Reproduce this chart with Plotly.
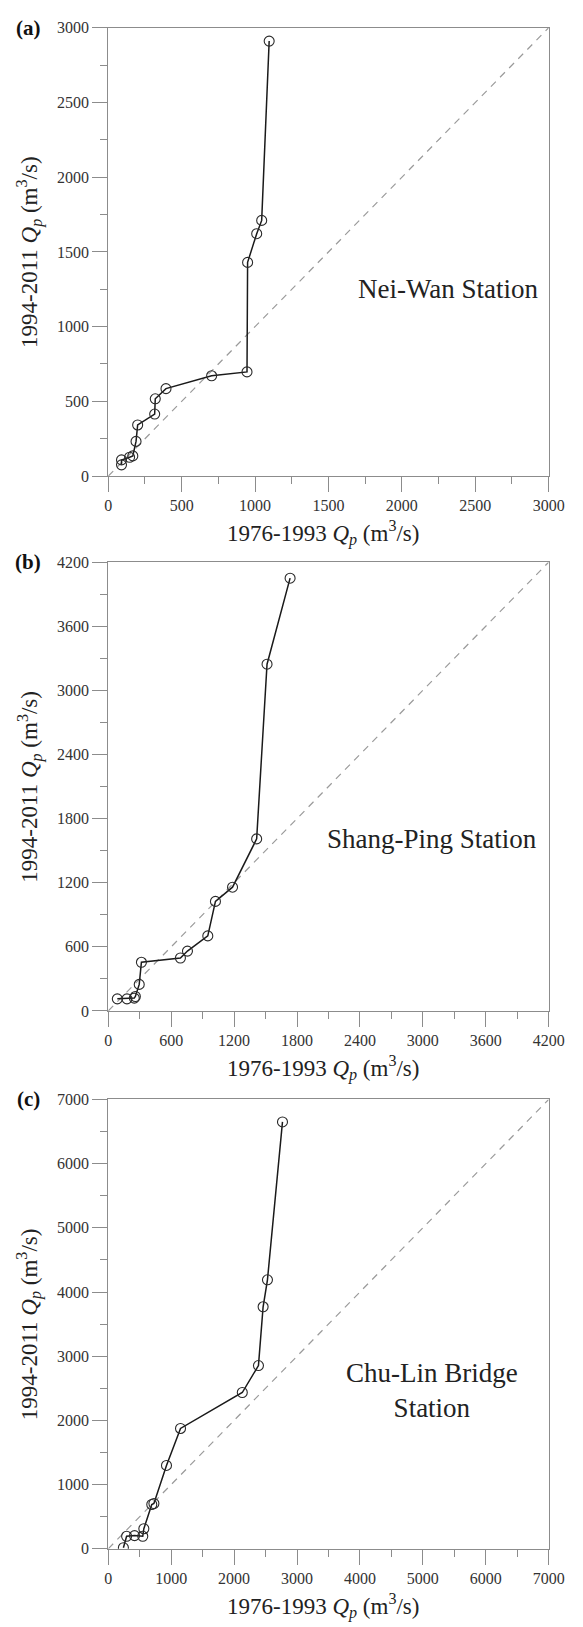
import plotly.graph_objects as go

# ---------------- data ----------------
neiwan_x = [90, 90, 145, 167, 189, 200, 316, 320, 393, 704, 945, 949, 1011, 1045, 1096]
neiwan_y = [75, 108, 126, 135, 232, 342, 415, 517, 585, 671, 697, 1430, 1622, 1711, 2911]

shangping_x = [86, 178, 248, 258, 295, 316, 688, 755, 949, 1022, 1185, 1415, 1514, 1734]
shangping_y = [113, 113, 120, 135, 248, 455, 495, 560, 702, 1025, 1158, 1610, 3245, 4050]

chulin_x = [240, 291, 417, 548, 565, 691, 725, 925, 1148, 2130, 2387, 2461, 2530, 2769]
chulin_y = [16, 194, 205, 194, 312, 689, 705, 1298, 1874, 2434, 2854, 3770, 4190, 6650]

panel_labels = ["(a)", "(b)", "(c)"]
station_names = ["Nei-Wan Station", "Shang-Ping Station", "Chu-Lin Bridge<br>Station"]
axis_max = [3000, 4200, 7000]
major_step = [500, 600, 1000]
minor_step = [250, 300, 500]
station_pos = [(2320, 1250), (3090, 1610), (5150, 2470)]

series = [(neiwan_x, neiwan_y), (shangping_x, shangping_y), (chulin_x, chulin_y)]

# ---------------- layout geometry (pixels) ----------------
W, H = 583, 1627
left_px, right_px = 108, 564
panels_px = [(20, 473), (560, 1013.5), (1103, 1557)]

SERIF = "Liberation Serif"
FRAME = "#8c8c8c"
TXT = "#333333"

fig = go.Figure()
layout = dict(
    width=W, height=H,
    margin=dict(l=0, r=0, t=0, b=0),
    paper_bgcolor="white", plot_bgcolor="white",
    showlegend=False,
    font=dict(family=SERIF, color=TXT, size=16),
)
annotations = []

for i, (xs, ys) in enumerate(series):
    top, bot = panels_px[i]
    n = "" if i == 0 else str(i + 1)
    xa, ya = "x" + n, "y" + n
    m = axis_max[i]
    # 1:1 line
    fig.add_trace(go.Scatter(
        x=[0, m], y=[0, m], mode="lines", xaxis=xa, yaxis=ya,
        line=dict(color="#9a9a9a", width=1.2, dash="7px,6px"), hoverinfo="skip"))
    # Q-Q curve
    fig.add_trace(go.Scatter(
        x=xs, y=ys, mode="lines+markers", xaxis=xa, yaxis=ya,
        line=dict(color="#1a1a1a", width=1.5),
        marker=dict(symbol="circle-open", size=10, color="#2a2a2a", line=dict(width=1.1))))

    ax_common = dict(
        range=[0, m], dtick=major_step[i], tick0=0,
        showline=True, linecolor=FRAME, linewidth=1, mirror=True,
        ticks="outside", ticklen=15, tickcolor=FRAME, tickwidth=1,
        minor=dict(dtick=minor_step[i], ticks="outside", ticklen=7, tickcolor=FRAME, tickwidth=1),
        showgrid=False, zeroline=False,
        tickfont=dict(family=SERIF, size=16, color=TXT),
    )
    ydom = [1 - bot / H, 1 - top / H]
    layout["xaxis" + n] = dict(ax_common, domain=[left_px / W, right_px / W], anchor=ya)
    layout["yaxis" + n] = dict(ax_common, domain=ydom, anchor=xa)

    # axis titles
    annotations.append(dict(
        text="1976-1993 <i>Q</i><sub><i>p</i></sub> (m<sup>3</sup>/s)",
        xref="paper", yref="paper", x=330 / W, y=1 - (bot + 58) / H,
        xanchor="center", yanchor="middle", showarrow=False,
        font=dict(family=SERIF, size=23, color="#222222")))
    annotations.append(dict(
        text="1994-2011 <i>Q</i><sub><i>p</i></sub> (m<sup>3</sup>/s)",
        xref="paper", yref="paper", x=26 / W, y=1 - (top + bot) / 2 / H,
        xanchor="center", yanchor="middle", showarrow=False, textangle=-90,
        font=dict(family=SERIF, size=23, color="#222222")))
    # panel label
    annotations.append(dict(
        text="<b>" + panel_labels[i] + "</b>",
        xref="paper", yref="paper", x=25 / W, y=1 - top / H,
        xanchor="center", yanchor="middle", showarrow=False,
        font=dict(family=SERIF, size=21, color="#111111")))
    # station name
    annotations.append(dict(
        text=station_names[i], xref=xa, yref=ya,
        x=station_pos[i][0], y=station_pos[i][1],
        xanchor="center", yanchor="middle", showarrow=False,
        font=dict(family=SERIF, size=27, color="#222222")))

layout["annotations"] = annotations
fig.update_layout(**layout)
fig.write_html("out.html")
